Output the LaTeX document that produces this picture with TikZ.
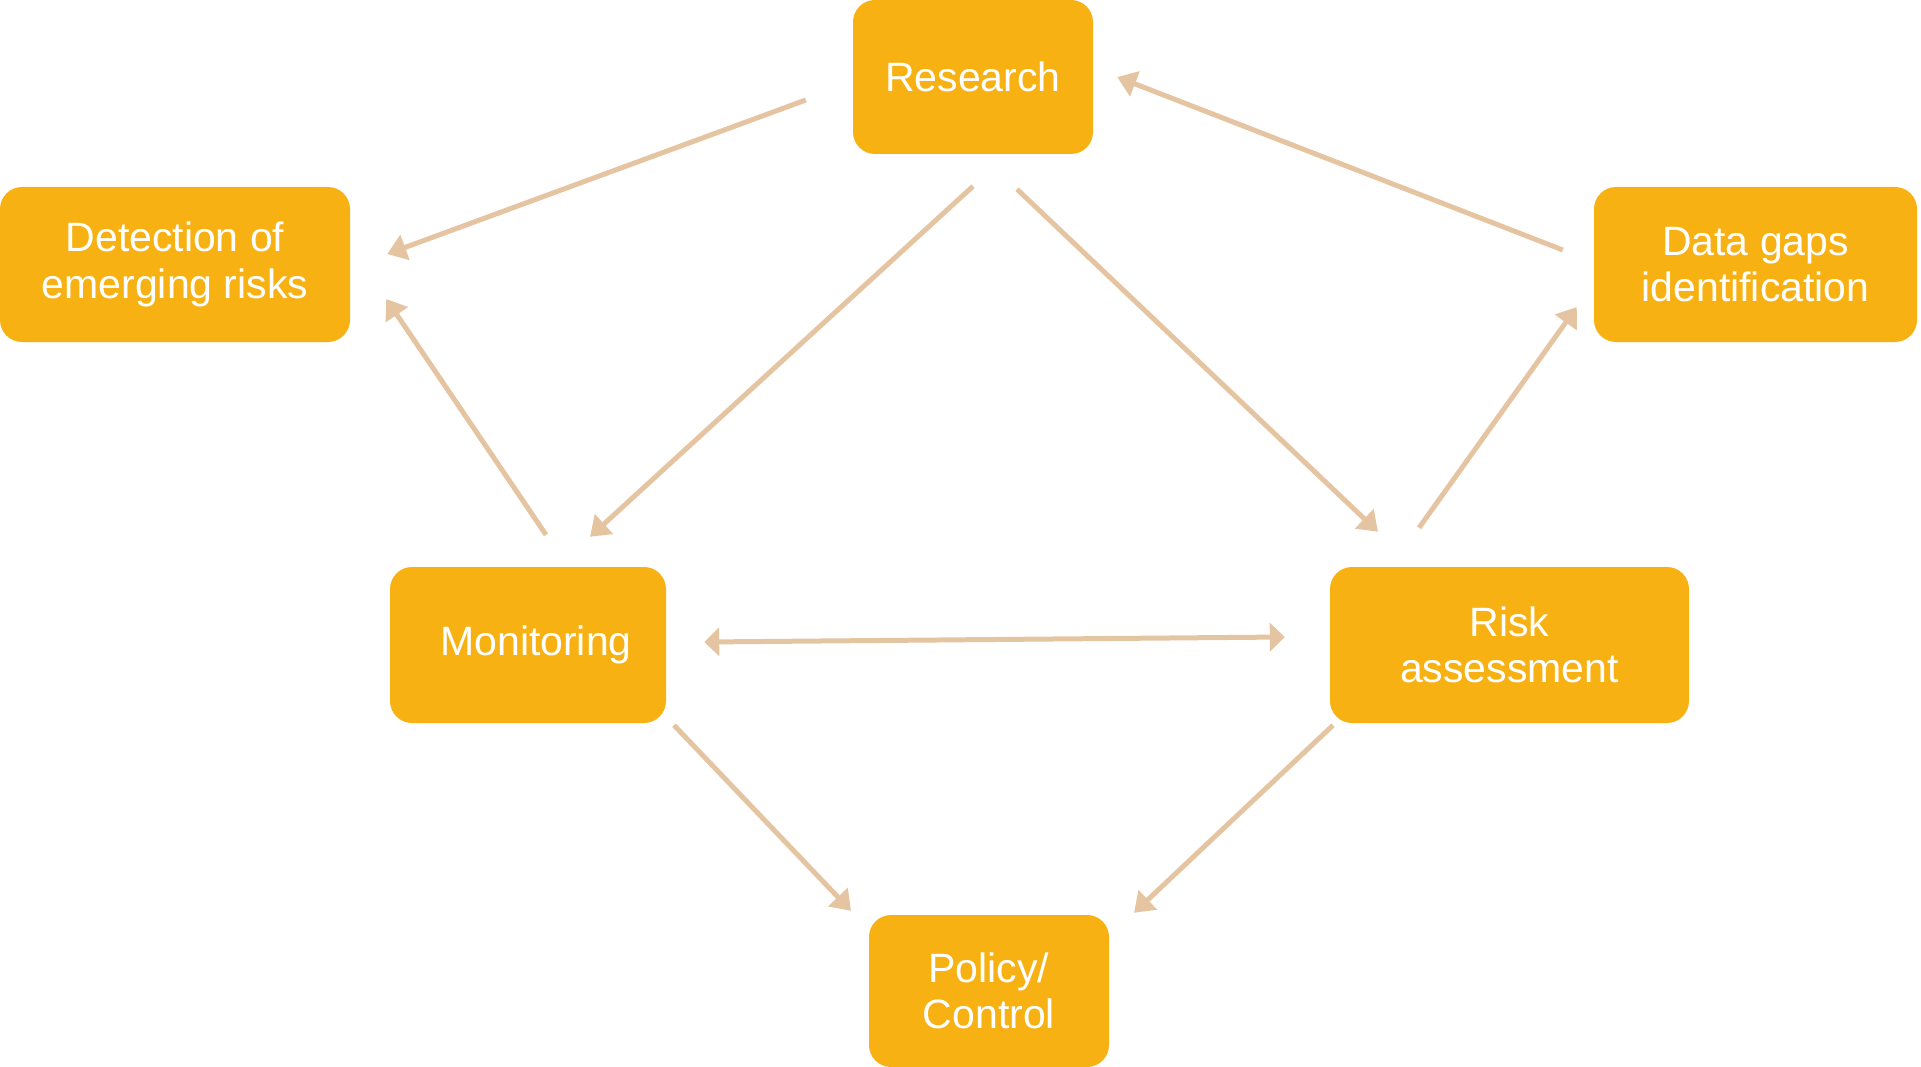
\documentclass[tikz,border=0pt]{standalone}
\usepackage{fontspec}
\setmainfont{Liberation Sans}
\usetikzlibrary{arrows.meta,calc}
\definecolor{boxfill}{HTML}{F8B113}
\definecolor{linkcol}{HTML}{E5C4A1}
\begin{document}
\begin{tikzpicture}[x=1pt,y=-1pt,
  box/.style={fill=boxfill, rounded corners=22pt, text=white, align=center,
    inner sep=0pt, font=\fontsize{41}{46.5}\selectfont},
  link/.style={draw=linkcol, line width=5pt,
    -{Triangle[length=19pt,width=26pt]}},
  dlink/.style={draw=linkcol, line width=5pt,
    {Triangle[length=15pt,width=28pt]}-{Triangle[length=15pt,width=28pt]}}]
\useasboundingbox (0,0) rectangle (1921,1067);
% boxes
\node[box, minimum width=240pt, minimum height=154pt] (res) at (973,77) {Research};
\node[box, minimum width=350pt, minimum height=155pt] (det) at (175,264.5) {\raisebox{-3pt}{Detection of}\\\raisebox{-3pt}{emerging risks}};
\node[box, minimum width=323pt, minimum height=155pt] (gap) at (1755.5,264.5) {Data gaps\\identification};
\node[box, minimum width=276pt, minimum height=156pt] (mon) at (528,645) {\hspace*{16pt}Monitoring};
\node[box, minimum width=359pt, minimum height=156pt] (risk) at (1509.5,645) {Risk\\assessment};
\node[box, minimum width=240pt, minimum height=152pt] (pol) at (989,991) {Policy/\\Control};
% connectors
\draw[link] ($(res.west)+(-47,23)$) -- ($(det.east)+(37,-10.5)$);
\draw[link] ($(gap.west)+(-31,-14.5)$) -- ($(res.east)+(24,0)$);
\draw[link] ($(res.south)+(0,32)$) -- ($(mon.north)+(62,-30)$);
\draw[link] ($(res.south)+(44,35)$) -- ($(risk.north)+(-131.5,-35)$);
\draw[link] ($(mon.north)+(18,-32)$) -- ($(det.east)+(36,34.5)$);
\draw[link] ($(risk.north)+(-90.5,-39)$) -- ($(gap.west)+(-17,42.5)$);
\draw[dlink] ($(mon.east)+(38,-3)$) -- ($(risk.west)+(-45,-8)$);
\draw[link] ($(mon.south)+(146,2)$) -- ($(pol.north)+(-138,-4)$);
\draw[link] ($(risk.south)+(-176.5,2)$) -- ($(pol.north)+(145,-2)$);
\end{tikzpicture}
\end{document}
